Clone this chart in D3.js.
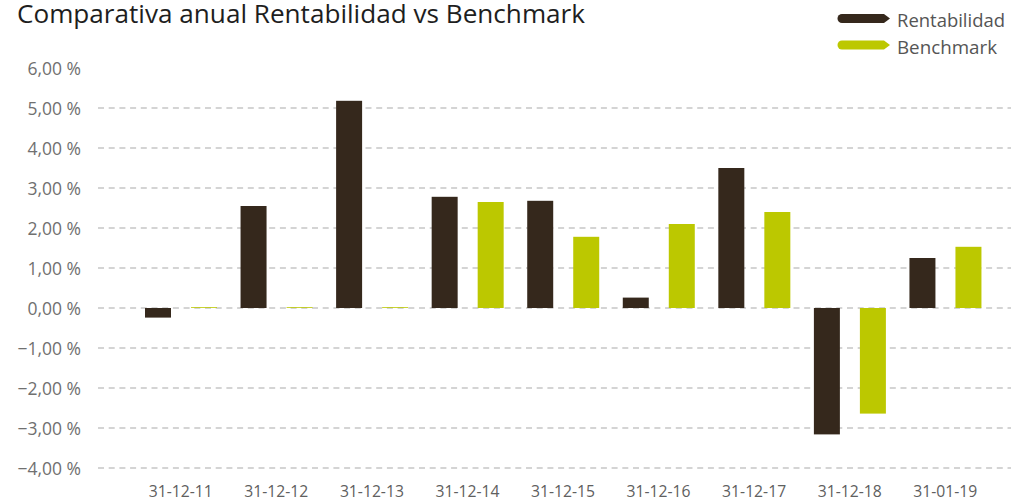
<!DOCTYPE html>
<html>
<head>
<meta charset="utf-8">
<script src="https://cdn.jsdelivr.net/npm/d3@7"></script>
<style>
  html, body { margin: 0; padding: 0; background: #fff; }
  svg { display: block; }
</style>
</head>
<body>
<svg id="chart" width="1011" height="503"></svg>
<script>
const categories = ["31-12-11", "31-12-12", "31-12-13", "31-12-14", "31-12-15", "31-12-16", "31-12-17", "31-12-18", "31-01-19"];
const rentabilidad = [-0.24, 2.55, 5.18, 2.78, 2.68, 0.26, 3.50, -3.16, 1.25];
const benchmark = [0.02, 0.02, 0.02, 2.65, 1.78, 2.10, 2.40, -2.64, 1.53];
const yTicks = [-4, -3, -2, -1, 0, 1, 2, 3, 4, 5, 6];
const seriesNames = ["Rentabilidad", "Benchmark"];
const seriesColors = ["#35281c", "#bcc800"];
const titleText = "Comparativa anual Rentabilidad vs Benchmark";

const svg = d3.select("#chart");
const font = "'Open Sans', 'Noto Sans', sans-serif";

const y = d3.scaleLinear().domain([-4, 6]).range([468, 68]);
const x = d3.scaleBand().domain(categories).range([133, 993]).padding(0);
const xs = d3.scaleBand().domain(seriesNames).range([12, 84]).paddingInner(0.435).paddingOuter(0);
const color = d3.scaleOrdinal().domain(seriesNames).range(seriesColors);

// gridlines
svg.append("g").selectAll("line")
  .data(yTicks.filter(t => t < 6))
  .join("line")
  .attr("x1", 98).attr("x2", 1011)
  .attr("y1", d => y(d)).attr("y2", d => y(d))
  .attr("stroke", "#c6c6c6")
  .attr("stroke-width", 1.6)
  .attr("stroke-dasharray", "6,4.7");

// y axis labels
const yAxis = d3.axisLeft(y).tickValues(yTicks).tickSize(0).tickPadding(0)
  .tickFormat(d => d3.format(".2f")(d).replace(".", ",") + " %");
const gy = svg.append("g").attr("transform", "translate(81,1)").call(yAxis);
gy.select(".domain").remove();
gy.selectAll("text").attr("font-family", font).attr("font-size", 17.5).attr("fill", "#707070");

// bars
const data = categories.map((c, i) => ({ cat: c, values: [
  { key: "Rentabilidad", v: rentabilidad[i] },
  { key: "Benchmark", v: benchmark[i] }
]}));

const groups = svg.append("g").selectAll("g")
  .data(data).join("g")
  .attr("transform", d => `translate(${x(d.cat)},0)`);
groups.selectAll("rect")
  .data(d => d.values).join("rect")
  .attr("x", d => xs(d.key))
  .attr("width", xs.bandwidth())
  .attr("y", d => y(Math.max(0, d.v)))
  .attr("height", d => Math.abs(y(d.v) - y(0)))
  .attr("fill", d => color(d.key));

// x axis labels
const xAxis = d3.axisBottom(x).tickSize(0).tickPadding(0);
const gx = svg.append("g").attr("transform", "translate(0,486)").call(xAxis);
gx.select(".domain").remove();
gx.selectAll("text").attr("font-family", font).attr("font-size", 16).attr("fill", "#606060")
  .attr("textLength", 64).attr("lengthAdjust", "spacingAndGlyphs");

// title
svg.append("text")
  .attr("x", 17).attr("y", 23)
  .attr("font-family", font).attr("font-size", 25).attr("fill", "#1e1e1e")
  .attr("textLength", 568).attr("lengthAdjust", "spacingAndGlyphs")
  .text(titleText);

// legend
const legend = svg.append("g").selectAll("g")
  .data(seriesNames).join("g")
  .attr("transform", (d, i) => `translate(0,${[18.5, 45][i]})`);
legend.append("path")
  .attr("d", "M842,-4.5 L884,-4.5 L890,0 L884,4.5 L842,4.5 A4.5,4.5 0 0 1 842,-4.5 Z")
  .attr("fill", d => color(d));
legend.append("text")
  .attr("x", 897).attr("y", 8.5)
  .attr("font-family", font).attr("font-size", 18).attr("fill", "#555")
  .attr("textLength", (d, i) => [108, 100][i]).attr("lengthAdjust", "spacingAndGlyphs")
  .text(d => d);
</script>
</body>
</html>
